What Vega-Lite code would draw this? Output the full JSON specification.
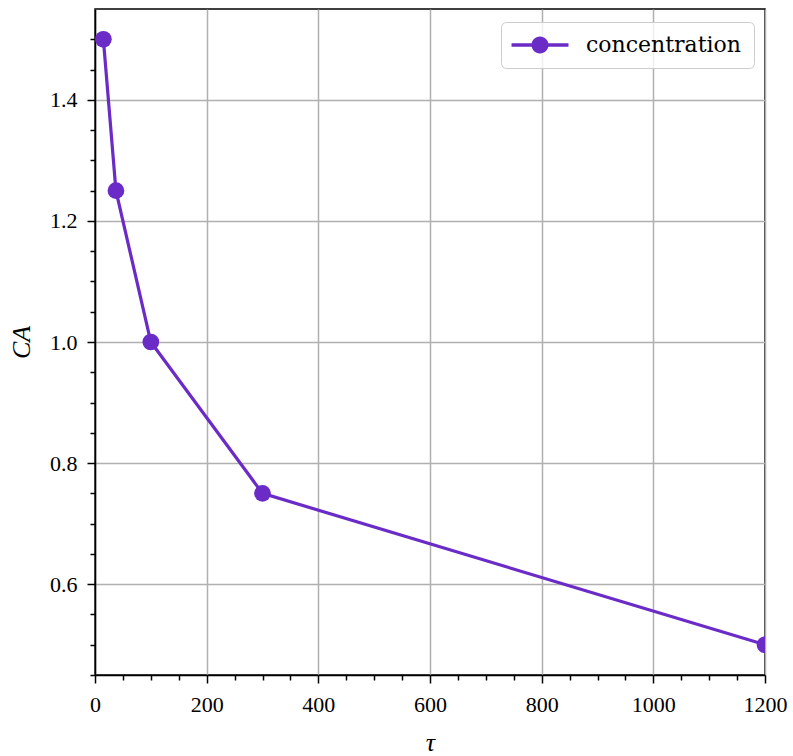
{
  "$schema": "https://vega.github.io/schema/vega-lite/v6.json",
  "width": 670,
  "height": 666,
  "autosize": "none",
  "padding": {"left": 95, "top": 9, "right": 28, "bottom": 81},
  "background": "white",
  "config": {
    "view": {"stroke": "black", "strokeWidth": 1.5},
    "font": "Liberation Serif",
    "axis": {
      "domainColor": "black",
      "domainWidth": 1.5,
      "tickColor": "black",
      "tickWidth": 1.5,
      "labelFont": "Liberation Serif",
      "labelFontSize": 22,
      "labelColor": "black",
      "titleFont": "Liberation Serif",
      "titleFontSize": 26,
      "titleFontStyle": "italic",
      "titleFontWeight": "normal",
      "titleColor": "black",
      "gridColor": "#b0b0b0",
      "gridWidth": 1.5,
      "gridOpacity": 1
    }
  },
  "data": {
    "values": [
      {"tau": 15, "CA": 1.5, "series": "concentration"},
      {"tau": 37.5, "CA": 1.25, "series": "concentration"},
      {"tau": 100, "CA": 1.0, "series": "concentration"},
      {"tau": 300, "CA": 0.75, "series": "concentration"},
      {"tau": 1200, "CA": 0.5, "series": "concentration"}
    ]
  },
  "resolve": {"axis": {"x": "independent", "y": "independent"}},
  "layer": [
    {
      "mark": {"type": "line", "color": "#6a2bc6", "strokeWidth": 3.2, "clip": true},
      "encoding": {
        "x": {
          "field": "tau", "type": "quantitative",
          "scale": {"domain": [0, 1200], "nice": false, "zero": false},
          "axis": {
            "orient": "bottom",
            "values": [0, 200, 400, 600, 800, 1000, 1200],
            "format": "d",
            "grid": true,
            "tickSize": 8,
            "labelPadding": 11,
            "labelFont": "Liberation Serif",
            "labelFontSize": 22,
            "title": "τ",
            "titleY": 75,
            "titleBaseline": "alphabetic",
            "labelFlush": false
          }
        },
        "y": {
          "field": "CA", "type": "quantitative",
          "scale": {"domain": [0.45, 1.55], "nice": false, "zero": false},
          "axis": {
            "orient": "left",
            "values": [0.6, 0.8, 1.0, 1.2, 1.4],
            "format": ".1f",
            "grid": true,
            "tickSize": 8,
            "labelPadding": 10,
            "labelFont": "Liberation Serif",
            "labelFontSize": 22,
            "title": "CA",
            "titleX": -66,
            "titleBaseline": "alphabetic",
            "labelFlush": false
          }
        }
      }
    },
    {
      "mark": {"type": "point", "filled": true, "size": 280, "opacity": 1, "clip": true},
      "encoding": {
        "x": {
          "field": "tau", "type": "quantitative",
          "axis": {
            "orient": "bottom",
            "values": [50, 100, 150, 250, 300, 350, 450, 500, 550, 650, 700, 750, 850, 900, 950, 1050, 1100, 1150],
            "labels": false,
            "domain": false,
            "grid": false,
            "tickSize": 5,
            "title": null
          }
        },
        "y": {
          "field": "CA", "type": "quantitative",
          "axis": {
            "orient": "left",
            "values": [0.45, 0.5, 0.55, 0.65, 0.7, 0.75, 0.85, 0.9, 0.95, 1.05, 1.1, 1.15, 1.25, 1.3, 1.35, 1.45, 1.5],
            "labels": false,
            "domain": false,
            "grid": false,
            "tickSize": 5,
            "title": null
          }
        },
        "color": {
          "field": "series", "type": "nominal",
          "scale": {"range": ["#6a2bc6"]},
          "legend": {
            "title": null,
            "orient": "none",
            "legendX": 406,
            "legendY": 13,
            "padding": 12,
            "symbolType": "M -3.35 -0.2 L -0.9 -0.2 L -0.9 0.2 L -3.35 0.2 Z M 0.9 -0.2 L 3.35 -0.2 L 3.35 0.2 L 0.9 0.2 Z M 1 0 A 1 1 0 1 1 -1 0 A 1 1 0 1 1 1 0 Z",
            "symbolSize": 289,
            "symbolStrokeWidth": 0,
            "symbolOffset": 16,
            "labelOffset": 35,
            "labelFont": "DejaVu Serif",
            "labelFontSize": 22,
            "labelColor": "black",
            "strokeColor": "#cccccc",
            "fillColor": "rgba(255,255,255,0.8)",
            "cornerRadius": 5
          }
        }
      }
    }
  ]
}
